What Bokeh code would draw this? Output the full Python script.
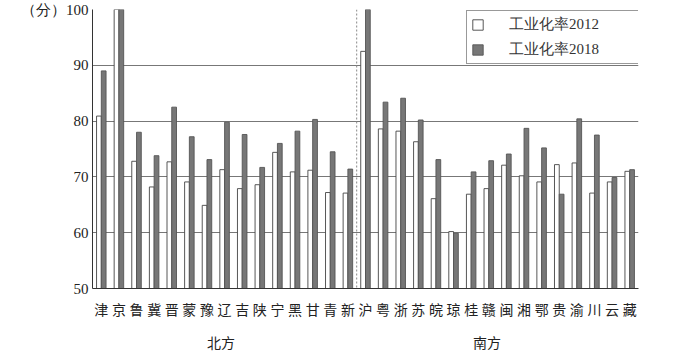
from bokeh.plotting import figure
from bokeh.models import (LinearAxis, FixedTicker, Span, Legend, LegendItem,
                          ColumnDataSource, Range1d)
from bokeh.transform import dodge
from bokeh.embed import file_html
from bokeh.resources import INLINE

provinces = ["津", "京", "鲁", "冀", "晋", "蒙", "豫", "辽", "吉", "陕", "宁", "黑", "甘", "青", "新",
             "沪", "粤", "浙", "苏", "皖", "琼", "桂", "赣", "闽", "湘", "鄂", "贵", "渝", "川", "云", "藏"]
ind2012 = [80.9, 100.0, 72.8, 68.2, 72.7, 69.1, 64.9, 71.3, 67.9, 68.6, 74.4, 70.9, 71.2, 67.2, 67.1,
           92.5, 78.6, 78.2, 76.3, 66.1, 60.2, 66.9, 67.9, 72.1, 70.2, 69.1, 72.2, 72.5, 67.1, 69.1, 71.0]
ind2018 = [89.0, 100.0, 78.0, 73.8, 82.5, 77.2, 73.1, 79.8, 77.6, 71.7, 76.0, 78.2, 80.3, 74.5, 71.4,
           100.0, 83.4, 84.1, 80.2, 73.1, 59.9, 70.9, 72.9, 74.1, 78.7, 75.2, 66.9, 80.4, 77.5, 69.9, 71.3]
groups = ["北方", "南方"]
y_ticks = [50, 60, 70, 80, 90, 100]
series_names = ["工业化率2012", "工业化率2018"]

idx = list(range(len(provinces)))
src = ColumnDataSource(dict(x=idx, v12=ind2012, v18=ind2018))

p = figure(width=676, height=354, x_range=Range1d(-0.5, len(provinces) - 0.5),
           y_range=Range1d(y_ticks[0], y_ticks[-1]), output_backend="svg",
           toolbar_location=None, min_border_left=92, min_border_top=9,
           min_border_right=38, min_border_bottom=10)
p.outline_line_color = None
p.background_fill_color = "white"

r1 = p.vbar(x=dodge("x", -0.135, range=p.x_range), top="v12", bottom=y_ticks[0], width=0.27,
            fill_color="white", line_color="#444444", line_width=0.9, source=src)
r2 = p.vbar(x=dodge("x", 0.135, range=p.x_range), top="v18", bottom=y_ticks[0], width=0.27,
            fill_color="#777777", line_color="#555555", line_width=0.9, source=src)

# grid
p.xgrid.grid_line_color = None
p.ygrid.ticker = FixedTicker(ticks=y_ticks)
p.ygrid.grid_line_color = "#777777"
p.ygrid.grid_line_width = 1.2

# y axis
ya = p.yaxis[0]
ya.ticker = FixedTicker(ticks=y_ticks)
ya.major_label_overrides = {100: "（分）100"}
ya.major_tick_line_color = None
ya.minor_tick_line_color = None
ya.major_tick_out = 0
ya.major_label_standoff = 4
ya.axis_line_color = "#333333"
ya.major_label_text_font = "Liberation Serif"
ya.major_label_text_font_size = "15px"
ya.major_label_text_color = "#222222"

# x axis: provinces
xa = p.xaxis[0]
xa.ticker = FixedTicker(ticks=idx)
xa.major_label_overrides = {i: n for i, n in enumerate(provinces)}
xa.major_tick_line_color = None
xa.minor_tick_line_color = None
xa.major_tick_out = 0
xa.major_label_standoff = 10
xa.axis_line_color = "#333333"
xa.major_label_text_font = "Noto Sans CJK SC"
xa.major_label_text_font_size = "14px"
xa.major_label_text_color = "#222222"

# x axis: groups
grp_pos = [6.8, 21.9]
ga = LinearAxis(ticker=FixedTicker(ticks=grp_pos),
                major_label_overrides={grp_pos[0]: groups[0], grp_pos[1]: groups[1]})
ga.axis_line_color = None
ga.major_tick_line_color = None
ga.minor_tick_line_color = None
ga.major_tick_out = 0
ga.major_label_standoff = 10
ga.major_label_text_font = "Noto Sans CJK SC"
ga.major_label_text_font_size = "14px"
ga.major_label_text_color = "#222222"
p.add_layout(ga, "below")

# north/south divider
p.add_layout(Span(location=14.5, dimension="height", line_color="#888888",
                  line_dash="2 2", line_width=1))

legend = Legend(items=[LegendItem(label=series_names[0], renderers=[r1]),
                       LegendItem(label=series_names[1], renderers=[r2])],
                location=(374, 224))
legend.border_line_color = "#333333"
legend.border_line_width = 1
legend.background_fill_color = "white"
legend.background_fill_alpha = 1
legend.padding = 4
legend.spacing = 6
legend.margin = 0
legend.glyph_width = 13
legend.glyph_height = 13
legend.label_standoff = 25
legend.label_height = 14
legend.label_width = 133
legend.label_text_font = "Liberation Serif"
legend.label_text_font_size = "15px"
legend.label_text_color = "#333333"
p.add_layout(legend)

open("out.html", "w").write(file_html(p, INLINE))
